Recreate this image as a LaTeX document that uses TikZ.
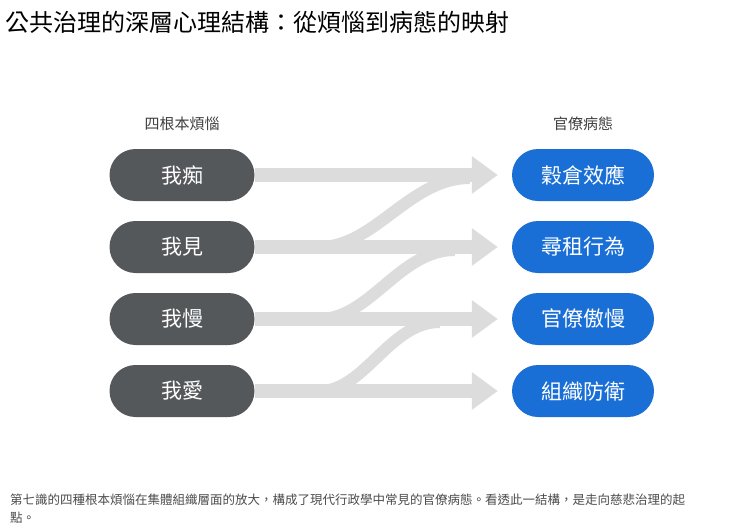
\documentclass[tikz,border=0pt]{standalone}
\usepackage{fontspec}
\setmainfont{Noto Sans CJK TC}
\usetikzlibrary{arrows.meta}
\definecolor{rootgray}{HTML}{55585B}
\definecolor{pathblue}{HTML}{1A6FD6}
\definecolor{flowgray}{HTML}{DCDCDC}
\tikzset{
	rootbox/.style={shape=rectangle, rounded corners=26pt, fill=rootgray, text=white, minimum width=145pt, minimum height=52pt, font=\fontsize{21}{21}\selectfont},
	illbox/.style={shape=rectangle, rounded corners=26pt, fill=pathblue, text=white, minimum width=142pt, minimum height=52pt, font=\fontsize{21}{21}\selectfont},
	flow/.style={draw=flowgray, line width=14pt, -{Triangle[width=36pt,length=26pt]}},
	branch/.style={draw=flowgray, line width=12pt}
}
\begin{document}
\begin{tikzpicture}[x=1pt, y=-1pt]
	\useasboundingbox[fill=white] (0, 0) rectangle (740, 531);
	% Title and headers:
	\node[anchor=west, font=\fontsize{24}{24}\selectfont] (title) at (2, 22){公共治理的深層心理結構：從煩惱到病態的映射};
	\node[font=\fontsize{15}{15}\selectfont, text=black!75] (lefthead) at (182, 124){四根本煩惱};
	\node[font=\fontsize{15}{15}\selectfont, text=black!75] (righthead) at (583, 124){官僚病態};
	% Boxes:
	\node[rootbox] (r1) at (182, 175){我痴};
	\node[rootbox] (r2) at (182, 247){我見};
	\node[rootbox] (r3) at (182, 319){我慢};
	\node[rootbox] (r4) at (182, 391){我愛};
	\node[illbox] (p1) at (583, 175){穀倉效應};
	\node[illbox] (p2) at (583, 247){尋租行為};
	\node[illbox] (p3) at (583, 319){官僚傲慢};
	\node[illbox] (p4) at (583, 391){組織防衛};
	% Branches:
	\draw[branch] (r2.east) ++(65, 0) .. controls ++(55, 0) and ++(-60, 0) .. ++(150, -69);
	\draw[branch] (r3.east) ++(65, 0) .. controls ++(50, 0) and ++(-55, 0) .. ++(135, -69);
	\draw[branch] (r4.east) ++(65, 0) .. controls ++(45, 0) and ++(-50, 0) .. ++(120, -69);
	% Flows:
	\draw[flow] (r1.east) -- ([xshift=-14pt]p1.west);
	\draw[flow] (r2.east) -- ([xshift=-14pt]p2.west);
	\draw[flow] (r3.east) -- ([xshift=-14pt]p3.west);
	\draw[flow] (r4.east) -- ([xshift=-14pt]p4.west);
	% Caption:
	\node[anchor=north west, align=left, inner sep=0pt, font=\fontsize{12.5}{18}\selectfont, text=black!70] (caption) at (10, 494){第七識的四種根本煩惱在集體組織層面的放大，構成了現代行政學中常見的官僚病態。看透此一結構，是走向慈悲治理的起\\點。};
\end{tikzpicture}
\end{document}
